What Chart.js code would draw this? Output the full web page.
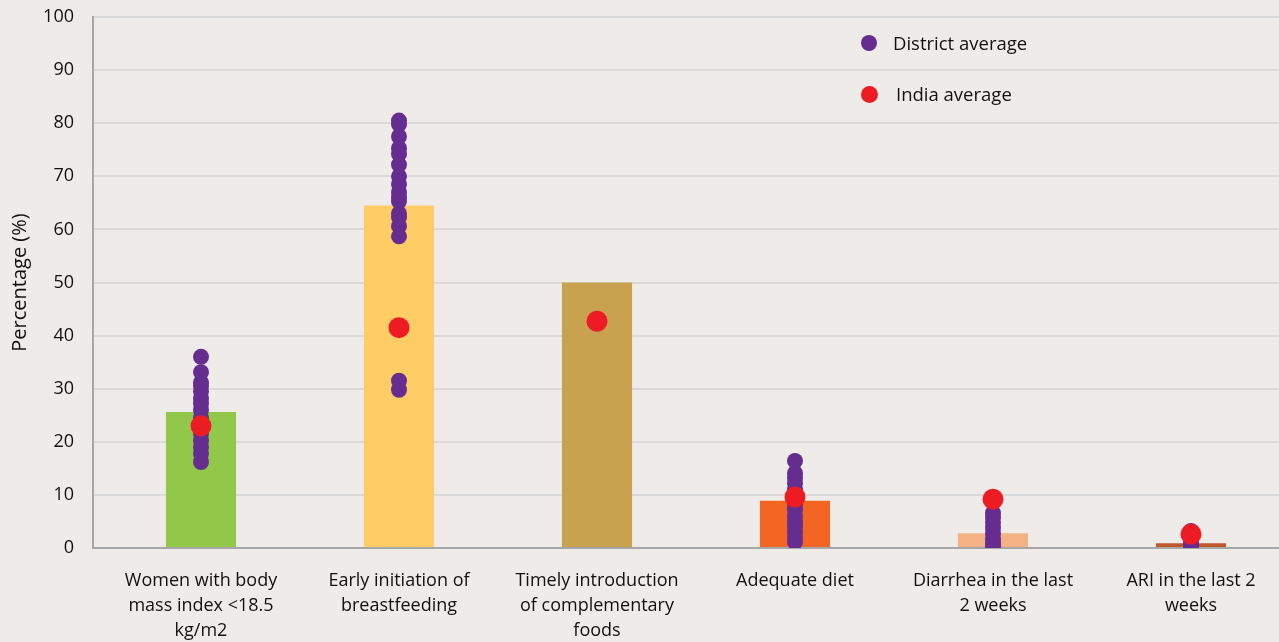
<!DOCTYPE html>
<html>
<head>
<meta charset="utf-8">
<script src="https://cdn.jsdelivr.net/npm/chart.js@4.4.1/dist/chart.umd.min.js"></script>
<style>
  html, body { margin: 0; padding: 0; background: #efebe8; overflow: hidden; }
  .wrap { position: relative; width: 1279px; height: 642px; }
  .legend { position: absolute; font-family: 'Open Sans', sans-serif; font-size: 18.5px; color: #111; }
  .legend span.dot { position: absolute; border-radius: 50%; }
</style>
</head>
<body>
<div class="wrap">
  <canvas id="mainChart" width="1279" height="642"></canvas>
  <div class="legend" style="left:0;top:0;">
    <span class="dot" style="left:861px;top:35px;width:16px;height:16px;background:#662d91;"></span>
    <span style="position:absolute;left:893px;top:30px;white-space:nowrap;">District average</span>
    <span class="dot" style="left:861px;top:86px;width:17px;height:17px;background:#ed1c24;"></span>
    <span style="position:absolute;left:896px;top:81px;white-space:nowrap;">India average</span>
  </div>
</div>
<script>
// categorías y valores
const categorias = [
    ['Women with body', 'mass index <18.5', 'kg/m2'],
    ['Early initiation of', 'breastfeeding'],
    ['Timely introduction', 'of complementary', 'foods'],
    ['Adequate diet'],
    ['Diarrhea in the last', '2 weeks'],
    ['ARI in the last 2', 'weeks']
];
const barColors = ['#92c84a', '#ffcc66', '#c8a24f', '#f26522', '#f4b183', '#c0582a'];
const barValues = [25.6, 64.5, 50.0, 8.9, 2.8, 0.9];
const indiaAvg = [23.0, 41.5, 42.7, 9.6, 9.2, 2.6];
const districtAvg = [
    [36.0, 33.1, 31.2, 30.5, 29.5, 28.2, 27.2, 26.0, 24.5, 23.0, 21.5, 20.2, 19.0, 17.8, 16.2],
    [80.5, 79.8, 77.5, 75.3, 74.2, 72.2, 70.0, 68.5, 67.0, 66.0, 65.3, 63.0, 62.3, 60.6, 58.7, 31.5, 29.8],
    [],
    [16.4, 14.1, 13.2, 12.2, 11.0, 9.5, 8.2, 7.2, 6.0, 4.9, 4.0, 3.0, 2.0, 1.1],
    [6.6, 5.8, 4.8, 3.8, 2.8, 1.8, 1.0, 0.4],
    [3.2, 2.4, 1.6, 0.9, 0.2]
];
const yTicks = [0, 10, 20, 30, 40, 50, 60, 70, 80, 90, 100];

const FONT = "'Open Sans', sans-serif";

function buildMainChart(ctx) {
    const districtPoints = [];
    districtAvg.forEach((vals, i) => vals.forEach(v => districtPoints.push({ x: i, y: v })));

    return new Chart(ctx, {
        type: 'bar',
        data: {
            datasets: [
                {
                    type: 'scatter',
                    label: 'India average',
                    data: indiaAvg.map((v, i) => ({ x: i, y: v })),
                    backgroundColor: '#ed1c24',
                    borderWidth: 0,
                    pointRadius: 10.5,
                    order: 0
                },
                {
                    type: 'scatter',
                    label: 'District average',
                    data: districtPoints,
                    backgroundColor: '#662d91',
                    borderWidth: 0,
                    pointRadius: 8,
                    order: 1
                },
                {
                    type: 'bar',
                    label: 'Valor',
                    data: barValues.map((v, i) => ({ x: i, y: v })),
                    backgroundColor: barColors,
                    barPercentage: 0.354,
                    categoryPercentage: 1,
                    order: 2
                }
            ]
        },
        options: {
            responsive: false,
            animation: false,
            layout: { autoPadding: false, padding: { top: 17, right: 0, left: 0, bottom: 0 } },
            scales: {
                x: {
                    type: 'linear',
                    offset: false,
                    min: -108 / 198,
                    max: -108 / 198 + 1186 / 198,
                    grid: { display: false, drawTicks: false },
                    border: { color: '#a6a6a6', width: 2 },
                    afterFit: s => {
                        s.height = 94;
                        s.paddingLeft = 0;
                        s.paddingRight = 0;
                    },
                    afterBuildTicks: s => {
                        s.ticks = categorias.map((c, i) => ({ value: i }));
                    },
                    ticks: {
                        padding: 20,
                        maxRotation: 0,
                        autoSkip: false,
                        color: '#111',
                        font: { family: FONT, size: 18, lineHeight: 1.4 },
                        callback: v => categorias[v]
                    }
                },
                y: {
                    min: 0,
                    max: 100,
                    afterFit: s => {
                        s.width = 93;
                        s.paddingTop = 0;
                        s.paddingBottom = 0;
                    },
                    afterBuildTicks: s => {
                        s.ticks = yTicks.map(v => ({ value: v }));
                    },
                    grid: { color: '#d9d9d9', lineWidth: 2, drawTicks: false },
                    border: { color: '#a6a6a6', width: 2 },
                    title: {
                        display: true,
                        text: 'Percentage (%)',
                        color: '#111',
                        font: { family: FONT, size: 20 },
                        padding: { top: 8, bottom: 0 }
                    },
                    ticks: {
                        padding: 19,
                        color: '#111',
                        font: { family: FONT, size: 18 }
                    }
                }
            },
            plugins: {
                legend: { display: false },
                tooltip: { enabled: false }
            }
        }
    });
}

document.addEventListener('DOMContentLoaded', () => {
    const canvas = document.getElementById('mainChart');
    buildMainChart(canvas.getContext('2d'));
});
</script>
</body>
</html>
